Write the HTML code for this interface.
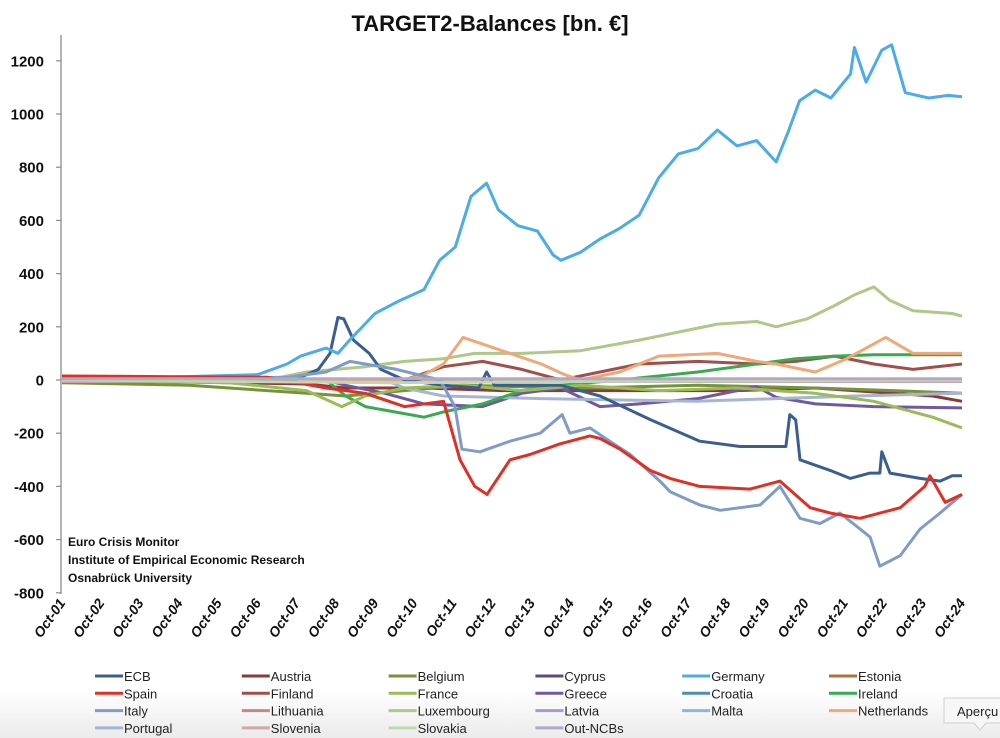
<!DOCTYPE html>
<html><head><meta charset="utf-8">
<style>
html,body{margin:0;padding:0;background:#fff;}
body{width:1000px;height:738px;overflow:hidden;position:relative;font-family:"Liberation Sans",sans-serif;}
#bg{position:absolute;left:0;top:0;width:1000px;height:738px;background:linear-gradient(to bottom,#fff 0px,#fff 690px,#ebebeb 738px);}
svg{position:absolute;left:0;top:0;}
</style></head>
<body>
<div id="bg"></div>
<svg id="chart" width="1000" height="738">
<text x="490" y="31" text-anchor="middle" font-size="22" font-weight="bold" fill="#111">TARGET2-Balances [bn. €]</text>
<g id="yaxis"></g>
<g id="xaxis"></g>
<g id="series"></g>
<g font-size="12" font-weight="bold" fill="#111">
<text x="68" y="546">Euro Crisis Monitor</text>
<text x="68" y="564">Institute of Empirical Economic Research</text>
<text x="68" y="582">Osnabrück University</text>
</g>
<g id="legend"></g>
<g>
<path d="M944,698 H1002 V723 H986 L980,730 L974,723 H944 Z" fill="#f7f7f7" stroke="#cfcfcf"/>
<text x="957" y="716" font-size="13" fill="#222">Aperçu</text>
</g>
</svg>
<script>
// ---- data (decimal years / bn €) ----
const yTicks = [1200,1000,800,600,400,200,0,-200,-400,-600,-800];
const xTickYears = [2001,2002,2003,2004,2005,2006,2007,2008,2009,2010,2011,2012,2013,2014,2015,2016,2017,2018,2019,2020,2021,2022,2023,2024];
const seriesNames = ["ECB","Austria","Belgium","Cyprus","Germany","Estonia","Spain","Finland","France","Greece","Croatia","Ireland","Italy","Lithuania","Luxembourg","Latvia","Malta","Netherlands","Portugal","Slovenia","Slovakia","Out-NCBs"];
const seriesColors = ["#3A5F8F","#8B3A3A","#76923C","#5F4A7B","#4BACE6","#B0703C","#E03025","#A0504A","#9BBB59","#7059A0","#4F8FA8","#3AAA50","#7F9BC8","#C08A85","#ADC888","#A99BC5","#8FB8CC","#F0A878","#A6B6D0","#D0A8A8","#C4D6B0","#B2A8C8"];

const ecbT = [2001.75,2007.7,2008.3,2008.6,2008.8,2008.95,2009.2,2009.6,2009.9,2010.5,2011.5,2012.4,2012.6,2012.8,2014.5,2015.5,2016.8,2018.05,2019.08,2020.1,2020.25,2020.35,2020.5,2020.61,2021.38,2021.89,2022.4,2022.65,2022.7,2022.91,2023.68,2024.19,2024.5,2024.75];
const ecbV = [0,0,40,100,235,230,150,100,40,0,-20,-30,30,-20,-20,-60,-150,-230,-250,-250,-250,-130,-150,-300,-340,-370,-350,-350,-270,-350,-370,-380,-360,-360];
const deT = [2001.75,2006.75,2007.5,2007.85,2008.5,2008.8,2009.1,2009.75,2010.4,2011.0,2011.4,2011.8,2012.2,2012.6,2012.9,2013.4,2013.9,2014.3,2014.5,2015.0,2015.5,2016.0,2016.5,2017.0,2017.5,2018.0,2018.5,2019.0,2019.5,2020.0,2020.3,2020.6,2021.0,2021.4,2021.9,2022.0,2022.3,2022.7,2022.95,2023.3,2023.9,2024.4,2024.75];
const deV = [0,20,60,90,120,100,150,250,300,340,450,500,690,740,640,580,560,470,450,480,530,570,620,760,850,870,940,880,900,820,930,1050,1090,1060,1150,1250,1120,1240,1260,1080,1060,1070,1065];
const esT = [2001.75,2007.0,2008.5,2009.5,2010.5,2011.5,2011.92,2012.3,2012.61,2013.2,2013.71,2014.48,2015.24,2015.5,2016.01,2016.78,2017.29,2018.05,2019.33,2020.1,2020.87,2021.38,2022.14,2023.17,2023.8,2023.93,2024.32,2024.75];
const esV = [15,10,-30,-50,-100,-80,-300,-400,-430,-300,-280,-240,-210,-220,-260,-340,-370,-400,-410,-380,-480,-500,-520,-480,-400,-360,-460,-430];
const itT = [2001.75,2007.5,2008.5,2009.11,2009.5,2010.3,2011.41,2011.79,2011.97,2012.43,2013.2,2013.97,2014.53,2014.73,2015.24,2015.75,2016.27,2017.03,2017.29,2018.05,2018.57,2019.59,2020.1,2020.61,2021.12,2021.63,2022.4,2022.65,2023.17,2023.68,2024.19,2024.75];
const itV = [0,10,30,70,60,40,0,-100,-260,-270,-230,-200,-130,-200,-180,-230,-280,-380,-420,-470,-490,-470,-400,-520,-540,-500,-590,-700,-660,-560,-500,-430];
const luT = [2001.75,2007.0,2008.0,2009.5,2010.5,2011.5,2012.3,2013.5,2015.0,2016.5,2017.5,2018.5,2019.5,2020.0,2020.8,2021.5,2022.0,2022.5,2022.9,2023.5,2024.5,2024.75];
const luV = [0,0,30,50,70,80,100,100,110,150,180,210,220,200,230,280,320,350,300,260,250,240];
const nlT = [2001.75,2010.5,2011.0,2011.5,2012.0,2012.6,2013.2,2014.0,2014.6,2015.0,2016.0,2017.0,2018.5,2019.5,2020.0,2021.0,2021.8,2022.8,2023.5,2024.75];
const nlV = [0,0,20,60,160,130,100,60,20,0,30,90,100,70,60,30,80,160,100,100];
const fiT = [2001.75,2010.5,2011.5,2012.5,2013.5,2014.5,2015.5,2016.5,2018.0,2019.5,2020.5,2021.5,2022.5,2023.5,2024.75];
const fiV = [0,0,50,70,40,0,30,60,70,60,70,90,60,40,60];
const atT = [2001.75,2008.0,2009.0,2011.0,2013.0,2016.0,2019.0,2021.0,2023.0,2024.0,2024.75];
const atV = [0,-15,-30,-30,-40,-40,-40,-30,-50,-60,-80];
const ieT = [2001.75,2008.5,2009.0,2009.5,2011.0,2011.5,2012.5,2013.5,2014.5,2016.0,2018.0,2019.5,2020.5,2021.5,2022.5,2024.75];
const ieV = [0,0,-60,-100,-140,-120,-90,-40,-20,0,30,60,80,90,95,95];
const frT = [2001.75,2006.0,2008.0,2008.9,2009.5,2010.5,2012.0,2013.5,2015.0,2017.0,2019.0,2021.0,2022.5,2024.0,2024.75];
const frV = [0,-10,-40,-100,-60,-30,-20,-40,-20,-40,-30,-50,-80,-140,-180];
const beT = [2001.75,2005.0,2008.0,2009.0,2010.5,2012.0,2015.0,2018.0,2021.0,2023.0,2024.75];
const beV = [-10,-20,-50,-60,-40,-20,-30,-20,-30,-40,-50];
const grT = [2001.75,2008.5,2009.0,2010.0,2011.0,2012.5,2013.5,2014.5,2015.5,2016.5,2018.0,2019.5,2020.0,2021.0,2022.5,2024.75];
const grV = [0,0,-20,-50,-90,-100,-50,-30,-100,-90,-70,-25,-65,-90,-100,-105];
const ptT = [2001.75,2010.0,2010.5,2011.5,2014.0,2018.0,2020.0,2022.0,2024.75];
const ptV = [0,0,-30,-60,-70,-80,-70,-60,-50];
const cyT = [2001.75,2024.75]; const cyV = [-5,-5];
const eeT = [2001.75,2024.75]; const eeV = [0,0];
const hrT = [2001.75,2024.75]; const hrV = [0,0];
const ltT = [2001.75,2024.75]; const ltV = [-5,-5];
const lvT = [2001.75,2024.75]; const lvV = [0,0];
const mtT = [2001.75,2024.75]; const mtV = [-5,-5];
const siT = [2001.75,2024.75]; const siV = [-5,-5];
const skT = [2001.75,2010.0,2016.0,2024.75]; const skV = [0,-10,-5,0];
const onT = [2001.75,2024.75]; const onV = [5,5];

const seriesT = [ecbT,atT,beT,cyT,deT,eeT,esT,fiT,frT,grT,hrT,ieT,itT,ltT,luT,lvT,mtT,nlT,ptT,siT,skT,onT];
const seriesV = [ecbV,atV,beV,cyV,deV,eeV,esV,fiV,frV,grV,hrV,ieV,itV,ltV,luV,lvV,mtV,nlV,ptV,siV,skV,onV];

// ---- scales ----
const NS = "http://www.w3.org/2000/svg";
function xs(yr){ return 62 + (yr - 2001.75) * 39.13; }
function ys(v){ return 380 - v * 0.266; }
function mk(tag, attrs, parent){ const e=document.createElementNS(NS,tag); for(const k in attrs) e.setAttribute(k,attrs[k]); parent.appendChild(e); return e; }

// y axis
const ya = document.getElementById('yaxis');
const yl = mk('line',{x1:61,y1:35,x2:61,y2:594,stroke:'#8c8c8c','stroke-width':1.3},ya);


yTicks.forEach(v=>{
  const t = mk('line',{x1:56,y1:ys(v),x2:61,y2:ys(v),stroke:'#8c8c8c','stroke-width':1.2},ya);
  
  
  const lb = mk('text',{x:44,y:ys(v)+5.5,'text-anchor':'end','font-size':15,'font-weight':'bold',fill:'#111'},ya);
  lb.textContent = v;
  
  
});

// x axis labels
const xa = document.getElementById('xaxis');
xTickYears.forEach(y=>{
  const x = xs(y+0.75);
  const lb = mk('text',{x:x+4,y:603,'text-anchor':'end','font-size':14,'font-weight':'bold','font-style':'italic',fill:'#111',transform:'rotate(-55 '+(x+4)+' 603)'},xa);
  lb.textContent = 'Oct-' + String(y%100).padStart(2,'0');
  
  
});

// series
const sg = document.getElementById('series');
const order = [1,2,3,5,10,13,15,16,19,9,18,7,11,8,14,17,0,4,12,6,20,21];
order.forEach(i=>{
  const T = seriesT[i], V = seriesV[i];
  let d='';
  for(let k=0;k<T.length;k++){ d += (k?'L':'M') + xs(T[k]).toFixed(1) + ',' + ys(V[k]).toFixed(1); }
  const p = mk('path',{d:d,fill:'none',stroke:seriesColors[i],'stroke-width':3,'stroke-linejoin':'round'},sg);
  
  
});

// legend
const lg = document.getElementById('legend');
seriesNames.forEach((n,i)=>{
  const col = i%6, row = Math.floor(i/6);
  const x0 = 95 + col*146.8, y0 = 676 + row*17.3;
  const g = mk('g',{},lg);
  
  
  mk('line',{x1:x0,y1:y0,x2:x0+28,y2:y0,stroke:seriesColors[i],'stroke-width':3},g);
  const t = mk('text',{x:x0+29,y:y0+5,'font-size':13,fill:'#222'},g);
  t.textContent = n;
});
</script>
</body></html>
